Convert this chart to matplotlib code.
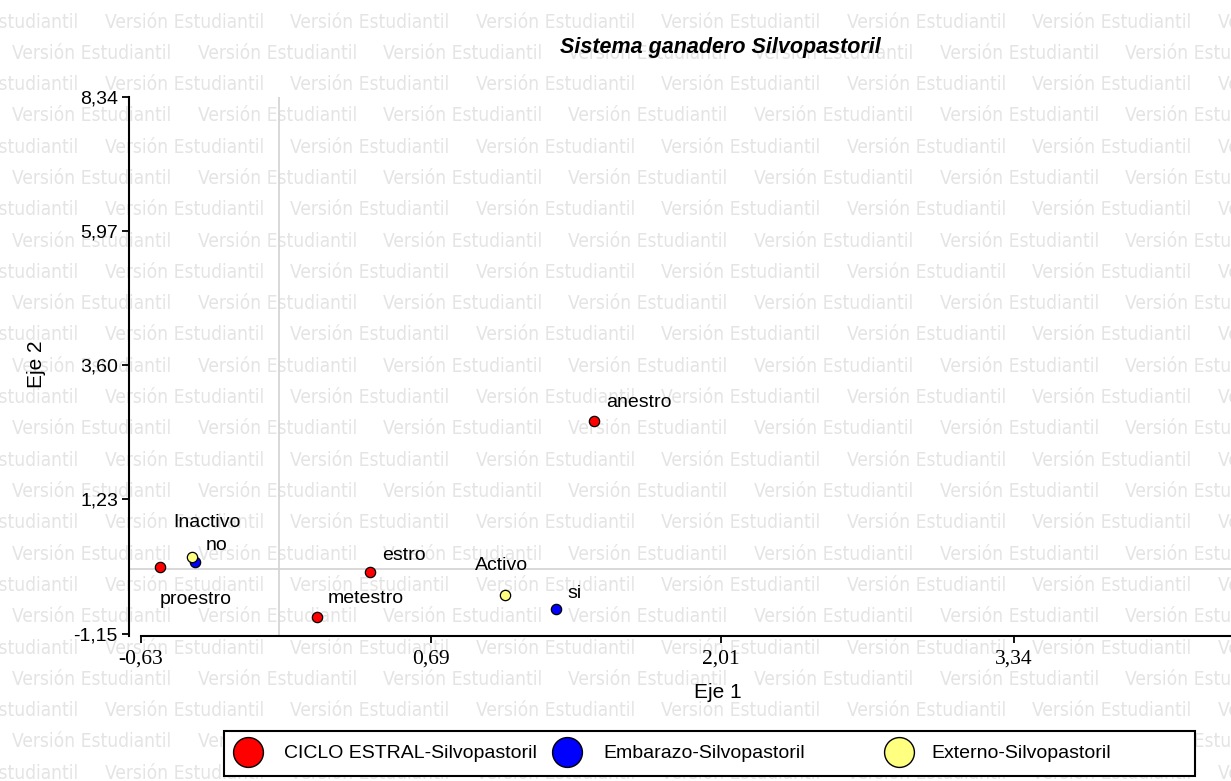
import matplotlib
matplotlib.use("Agg")
import matplotlib.pyplot as plt
from matplotlib import font_manager
from matplotlib.lines import Line2D
from matplotlib.patches import Rectangle

# biplot coordinates
labels = ["proestro", "estro", "metestro", "anestro", "no", "si", "Inactivo", "Activo"]
groups = ["CICLO ESTRAL-Silvopastoril"] * 4 + ["Embarazo-Silvopastoril"] * 2 + ["Externo-Silvopastoril"] * 2
eje1 = [-0.543, 0.415, 0.172, 1.432, -0.383, 1.259, -0.396, 1.025]
eje2 = [0.04, -0.054, -0.85, 2.614, 0.122, -0.708, 0.211, -0.461]

group_names = ["CICLO ESTRAL-Silvopastoril", "Embarazo-Silvopastoril", "Externo-Silvopastoril"]
group_colors = ["#ff0000", "#0000ff", "#ffff80"]

xticks = [-0.63, 0.69, 2.01, 3.34]
yticks = [-1.15, 1.23, 3.60, 5.97, 8.34]

# label offsets in points (dx, dy) relative to each point
label_offsets = {
    "proestro": (0, -23.8), "Inactivo": (-13.7, 24.5), "no": (7.9, 12.2),
    "estro": (8.3, 12.2), "metestro": (7.9, 13), "Activo": (-21.2, 21.6),
    "si": (7.9, 11.5), "anestro": (8.6, 13),
}

W, H = 1231, 781
SANS = "Liberation Sans"
SERIF = "Liberation Serif"
WM_COLOR = "#e4e4e4"


def fx(px):
    return px / W


def fy(py):
    return 1 - py / H


def watermark_font():
    # the watermark is a narrow face; take a condensed one if installed
    prefs = ["Open Sans", "Noto Sans", "DejaVu Sans", "Liberation Sans Narrow", "Liberation Sans"]
    found = {}
    for f in font_manager.fontManager.ttflist:
        narrow = f.stretch in ("condensed", "semi-condensed", "extra-condensed") \
            or "Condensed" in f.name or "Narrow" in f.name or "Narrow" in f.fname
        if narrow and f.style == "normal" and f.weight in (400, "normal", "regular"):
            for p in prefs:
                if f.name.startswith(p) and p not in found:
                    found[p] = f.fname
    for p in prefs:
        if p in found:
            return font_manager.FontProperties(fname=found[p])
    return font_manager.FontProperties(family="Open Sans")


fig = plt.figure(figsize=(W / 100, H / 100), dpi=100, facecolor="white")
ax = fig.add_axes([fx(129), fy(636), fx(1231) - fx(129), fy(90) - fy(636)])
ax.patch.set_visible(False)

# watermark
wm_prop = watermark_font()
renderer = fig.canvas.get_renderer()
probe = fig.text(0, 0, "Versión Estudiantil", fontproperties=wm_prop, fontsize=10)
wm_size = 10 * 160 / probe.get_window_extent(renderer=renderer).width
probe.remove()
for i in range(25):
    yc = 22 + i * 31.3
    x0 = -80.75 if i % 2 == 0 else 12
    while x0 < W:
        fig.text(fx(x0), fy(yc), "Versión Estudiantil", fontproperties=wm_prop, fontsize=wm_size,
                 color=WM_COLOR, va="center", ha="left", zorder=-5)
        x0 += 185.5

xmin, xmax = -0.683, 4.329
ymin, ymax = -1.185, 8.463
ax.set_xlim(xmin, xmax)
ax.set_ylim(ymin, ymax)

# reference lines
ax.axhline(0, color="#d2d2d2", lw=1.2, zorder=1)
ax.vlines(0, ymin, yticks[-1], color="#d2d2d2", lw=1.2, zorder=1)

for name, color in zip(group_names, group_colors):
    xs = [x for x, g in zip(eje1, groups) if g == name]
    ys = [y for y, g in zip(eje2, groups) if g == name]
    ax.scatter(xs, ys, s=55, c=color, edgecolors="black", linewidths=0.9, zorder=3)

for lab, x, y in zip(labels, eje1, eje2):
    ax.annotate(lab, (x, y), textcoords="offset points", xytext=label_offsets[lab],
                ha="left", va="center", fontsize=14, family=SANS, color="black", zorder=4)

for side in ("top", "right"):
    ax.spines[side].set_visible(False)
ax.spines["left"].set_bounds(ymin, yticks[-1])
ax.spines["bottom"].set_bounds(xticks[0], xmax)
for side in ("left", "bottom"):
    ax.spines[side].set_linewidth(1.5)
    ax.spines[side].set_color("black")

ax.set_xticks(xticks)
ax.set_xticklabels([f"{v:.2f}".replace(".", ",") for v in xticks], family=SERIF, fontsize=15.5)
ax.set_yticks(yticks)
ax.set_yticklabels([f"{v:.2f}".replace(".", ",") for v in yticks], family=SANS, fontsize=14)
ax.tick_params(axis="both", direction="out", length=5, width=1.3, colors="black")
ax.tick_params(axis="x", pad=5)
ax.tick_params(axis="y", pad=3)

fig.text(fx(718), fy(693), "Eje 1", ha="center", va="center", fontsize=15, family=SANS)
fig.text(fx(37), fy(364), "Eje 2", ha="center", va="center", rotation=90, fontsize=15, family=SANS)
fig.text(fx(720), fy(47), "Sistema ganadero Silvopastoril", ha="center", va="center",
         fontsize=15.5, family=SANS, weight="bold", style="italic")

# legend box
fig.add_artist(Rectangle((fx(224), fy(776)), fx(1195) - fx(224), fy(731) - fy(776),
                         transform=fig.transFigure, facecolor="white", edgecolor="black",
                         lw=1.5, zorder=5))
marker_px = [248, 567, 899]
text_px = [284, 603, 931]
for name, color, mx, tx in zip(group_names, group_colors, marker_px, text_px):
    fig.add_artist(Line2D([fx(mx)], [fy(752)], marker="o", markersize=21.5, mfc=color,
                          mec="black", mew=1, transform=fig.transFigure, zorder=6))
    fig.text(fx(tx), fy(754), name, ha="left", va="center", fontsize=14, family=SANS, zorder=6)

fig.savefig("out.png", dpi=100, facecolor="white")
